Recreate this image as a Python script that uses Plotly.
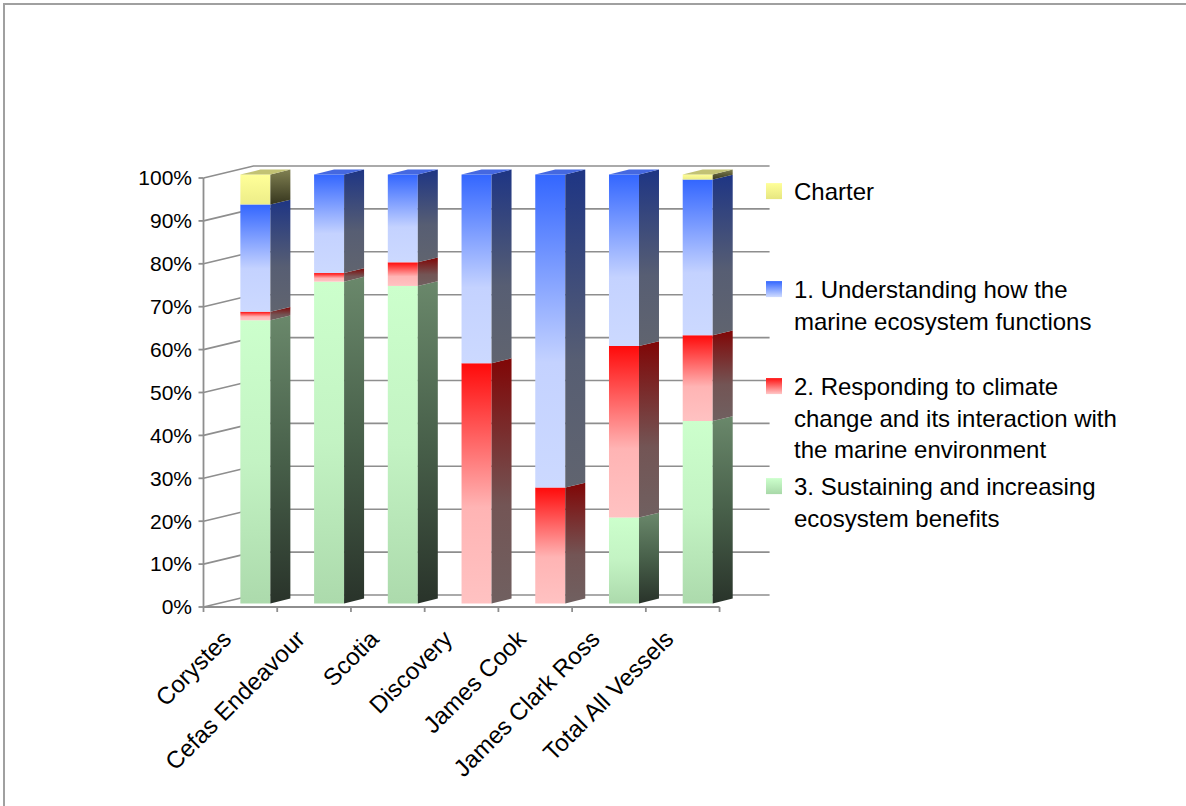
import plotly.graph_objects as go

# ---------------- data ----------------
categories = ["Corystes", "Cefas Endeavour", "Scotia", "Discovery",
              "James Cook", "James Clark Ross", "Total All Vessels"]
sustaining = [66, 75, 74, 0, 0, 20, 42.5]        # 3. Sustaining and increasing ecosystem benefits
responding = [2, 2, 5.5, 56, 27, 40, 20]          # 2. Responding to climate change ...
understanding = [25, 23, 20.5, 44, 73, 40, 36.3]  # 1. Understanding how the marine ecosystem functions
charter = [7, 0, 0, 0, 0, 0, 1.2]                 # Charter
y_tick_values = [0, 10, 20, 30, 40, 50, 60, 70, 80, 90, 100]
y_tick_labels = [f"{v}%" for v in y_tick_values]

FONT = "Liberation Sans, Arial, sans-serif"

# ---------------- pseudo-3D geometry (axis units) ----------------
PX_CAT = 73.72          # pixels per category
PX_PCT = 4.29           # pixels per percent
DX = 50 / PX_CAT        # full depth offset along x
DY = 12 / PX_PCT        # full depth offset along y
A, B = 0.30, 0.70       # bar front / back depth fraction
HW = 15 / PX_CAT        # half width of bar front
GRID = "#8E8E8E"
LABEL_SHIFT = 0.22      # rotated category labels sit a little left of centre

series = [
    dict(name="3. Sustaining and increasing<br>ecosystem benefits", values=sustaining,
         front=[[0, "#ACDAAC"], [0.5, "#C3F3C3"], [1, "#CCFFCC"]],
         side=[[0, "#29332A"], [0.5, "#48604A"], [1, "#6A886B"]],
         top="#B8E8B8", icon=("#CCFFCC", "#A8D8A8"), legend="legend4"),
    dict(name="2. Responding to climate<br>change and its interaction with<br>the marine environment",
         values=responding,
         front=[[0, "#FFC2C2"], [0.4, "#FFB4B4"], [1, "#FF0A0A"]],
         side=[[0, "#706060"], [0.4, "#735555"], [1, "#800606"]],
         top="#E03030", icon=("#FF1010", "#FFC8C8"), legend="legend3"),
    dict(name="1. Understanding how the<br>marine ecosystem functions", values=understanding,
         front=[[0, "#CCD9FF"], [0.4, "#C4D2FF"], [1, "#3366FF"]],
         side=[[0, "#60646F"], [0.4, "#575E73"], [1, "#1E3584"]],
         top="#4568E0", icon=("#3366FF", "#D0DCFF"), legend="legend2"),
    dict(name="Charter", values=charter,
         front=[[0, "#EDED88"], [1, "#FFFF99"]],
         side=[[0, "#36361E"], [1, "#808052"]],
         top="#C2C274", icon=("#FFFF99", "#E6E680"), legend="legend"),
]

fig = go.Figure()

# ---- walls: side-wall diagonals and back gridlines ----
gx, gy = [], []
for v in y_tick_values:
    gx += [0, DX, 7 + DX, None]
    gy += [v, v + DY, v + DY, None]
fig.add_trace(go.Scatter(x=gx, y=gy, mode="lines", line=dict(color=GRID, width=1.6),
                         hoverinfo="skip", showlegend=False))

# ---- front axes, tick marks ----
ax, ay = [0, 0, None, 0, 7, None], [100, 0, None, 0, 0, None]
for v in y_tick_values:
    ax += [-5 / PX_CAT, 0, None]
    ay += [v, v, None]
for k in range(len(categories) + 1):
    ax += [k, k, None]
    ay += [0, -5 / PX_PCT, None]
fig.add_trace(go.Scatter(x=ax, y=ay, mode="lines", line=dict(color=GRID, width=1.8),
                         hoverinfo="skip", showlegend=False))

# ---- bars ----
n = len(categories)
totals = [sum(s["values"][i] for s in series) for i in range(n)]
for i in range(n):
    base = 0.0
    xc = i + 0.5 + A * DX
    xl, xr = xc - HW, xc + HW
    xb = xr + (B - A) * DX
    for s in series:
        v = s["values"][i]
        if v <= 0:
            continue
        y0, y1 = base, base + v
        # front face
        fig.add_trace(go.Scatter(
            x=[xl, xr, xr, xl, xl],
            y=[y0 + A * DY, y0 + A * DY, y1 + A * DY, y1 + A * DY, y0 + A * DY],
            mode="none", fill="toself",
            fillgradient=dict(type="vertical", colorscale=s["front"]),
            hoverinfo="skip", showlegend=False))
        # side face
        fig.add_trace(go.Scatter(
            x=[xr, xb, xb, xr, xr],
            y=[y0 + A * DY, y0 + B * DY, y1 + B * DY, y1 + A * DY, y0 + A * DY],
            mode="none", fill="toself",
            fillgradient=dict(type="vertical", colorscale=s["side"]),
            hoverinfo="skip", showlegend=False))
        # top face (only the top-most segment)
        if abs(y1 - totals[i]) < 1e-9:
            fig.add_trace(go.Scatter(
                x=[xl, xr, xb, xl + (B - A) * DX, xl],
                y=[y1 + A * DY, y1 + A * DY, y1 + B * DY, y1 + B * DY, y1 + A * DY],
                mode="none", fill="toself", fillcolor=s["top"],
                hoverinfo="skip", showlegend=False))
        base = y1

# ---- legend entries ----
for s in series:
    fig.add_trace(go.Scatter(
        x=[-50], y=[-50], mode="markers", name=s["name"], legend=s["legend"],
        marker=dict(symbol="square", size=16, color=s["icon"][0],
                    gradient=dict(type="vertical", color=s["icon"][1]),
                    line=dict(width=0)),
        hoverinfo="skip"))

def leg(top_px):
    return dict(x=754 / 1186, xref="container", y=1 - top_px / 806, yref="container",
                xanchor="left", yanchor="top", valign="top",
                font=dict(family=FONT, size=24, color="#000000"),
                bgcolor="rgba(0,0,0,0)", borderwidth=0, tracegroupgap=0)

fig.update_layout(
    width=1186, height=806, autosize=False,
    margin=dict(l=197, r=416, t=162, b=193, autoexpand=False),
    paper_bgcolor="white", plot_bgcolor="white",
    font=dict(family=FONT, color="#000000"),
    xaxis=dict(range=[-6.5 / PX_CAT, 7.684], showgrid=False, zeroline=False, showline=False,
               tickmode="array", tickvals=[i + 0.5 - LABEL_SHIFT for i in range(n)],
               ticktext=categories, tickangle=-45, ticks="",
               tickfont=dict(family=FONT, size=24, color="#000000"),
               ticklabelstandoff=6, fixedrange=True),
    yaxis=dict(range=[-6 / PX_PCT, 103.73], showgrid=False, zeroline=False, showline=False,
               tickmode="array", tickvals=y_tick_values, ticktext=y_tick_labels,
               ticks="", tickfont=dict(family=FONT, size=21, color="#000000"),
               ticklabelstandoff=4, fixedrange=True),
    legend=leg(169), legend2=leg(267), legend3=leg(364), legend4=leg(464),
    shapes=[dict(type="rect", xref="paper", yref="paper",
                 x0=(4 - 197) / 573, x1=(1192 - 197) / 573,
                 y0=(613 - 812) / 451, y1=(613 - 4) / 451,
                 line=dict(color="#A0A0A0", width=2), fillcolor="rgba(0,0,0,0)",
                 layer="below")],
)

fig.write_html("out.html")
